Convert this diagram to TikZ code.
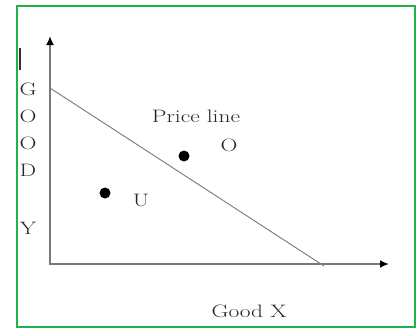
\documentclass[tikz,border=0pt]{standalone}
\usetikzlibrary{arrows.meta}
\definecolor{frame}{RGB}{34,178,76}
\definecolor{axisgray}{RGB}{120,120,120}
\definecolor{linegray}{RGB}{130,130,130}
\newcommand{\lbl}[1]{\scalebox{1.3}[1]{\fontsize{18}{20}\selectfont #1}}
\begin{document}
\begin{tikzpicture}[x=1pt,y=-1pt,
  axis/.style={draw=axisgray,line width=1.8pt,-{Latex[length=9pt,width=8pt,black]}},
  price/.style={draw=linegray,line width=1pt},
  dotmark/.style={circle,fill=black,inner sep=0pt,minimum size=11pt},
  txt/.style={inner sep=0pt,text=black!85}]
\useasboundingbox (0,0) rectangle (419,329);
\draw[frame,line width=2pt] (17,6) rectangle (415,327);
\coordinate (O) at (50,264);
\coordinate (ytop) at (50,36);
\coordinate (xend) at (389,264);
\coordinate (pA) at (50,88);
\coordinate (pB) at (324,266);
\draw[axis] (O |- 0,265) -- (ytop);
\draw[axis] (49,264) -- (xend);
\draw[price] (pA) -- (pB);
\draw[black!80,line width=1.5pt] (20,48) -- (20,70);
\node[txt] (g) at (28,89) {\lbl{G}};
\node[txt] (o1) at (28,116) {\lbl{O}};
\node[txt] (o2) at (28,143) {\lbl{O}};
\node[txt] (d) at (28,170) {\lbl{D}};
\node[txt] (y) at (28,228) {\lbl{Y}};
\node[txt] (pl) at (196,116) {\lbl{Price line}};
\node[txt] (ol) at (229,145) {\lbl{O}};
\node[dotmark] (dO) at (184,156) {};
\node[dotmark] (dU) at (105,193) {};
\node[txt] (ul) at (141,200) {\lbl{U}};
\node[txt] (gx) at (249,311) {\lbl{Good X}};
\end{tikzpicture}
\end{document}
